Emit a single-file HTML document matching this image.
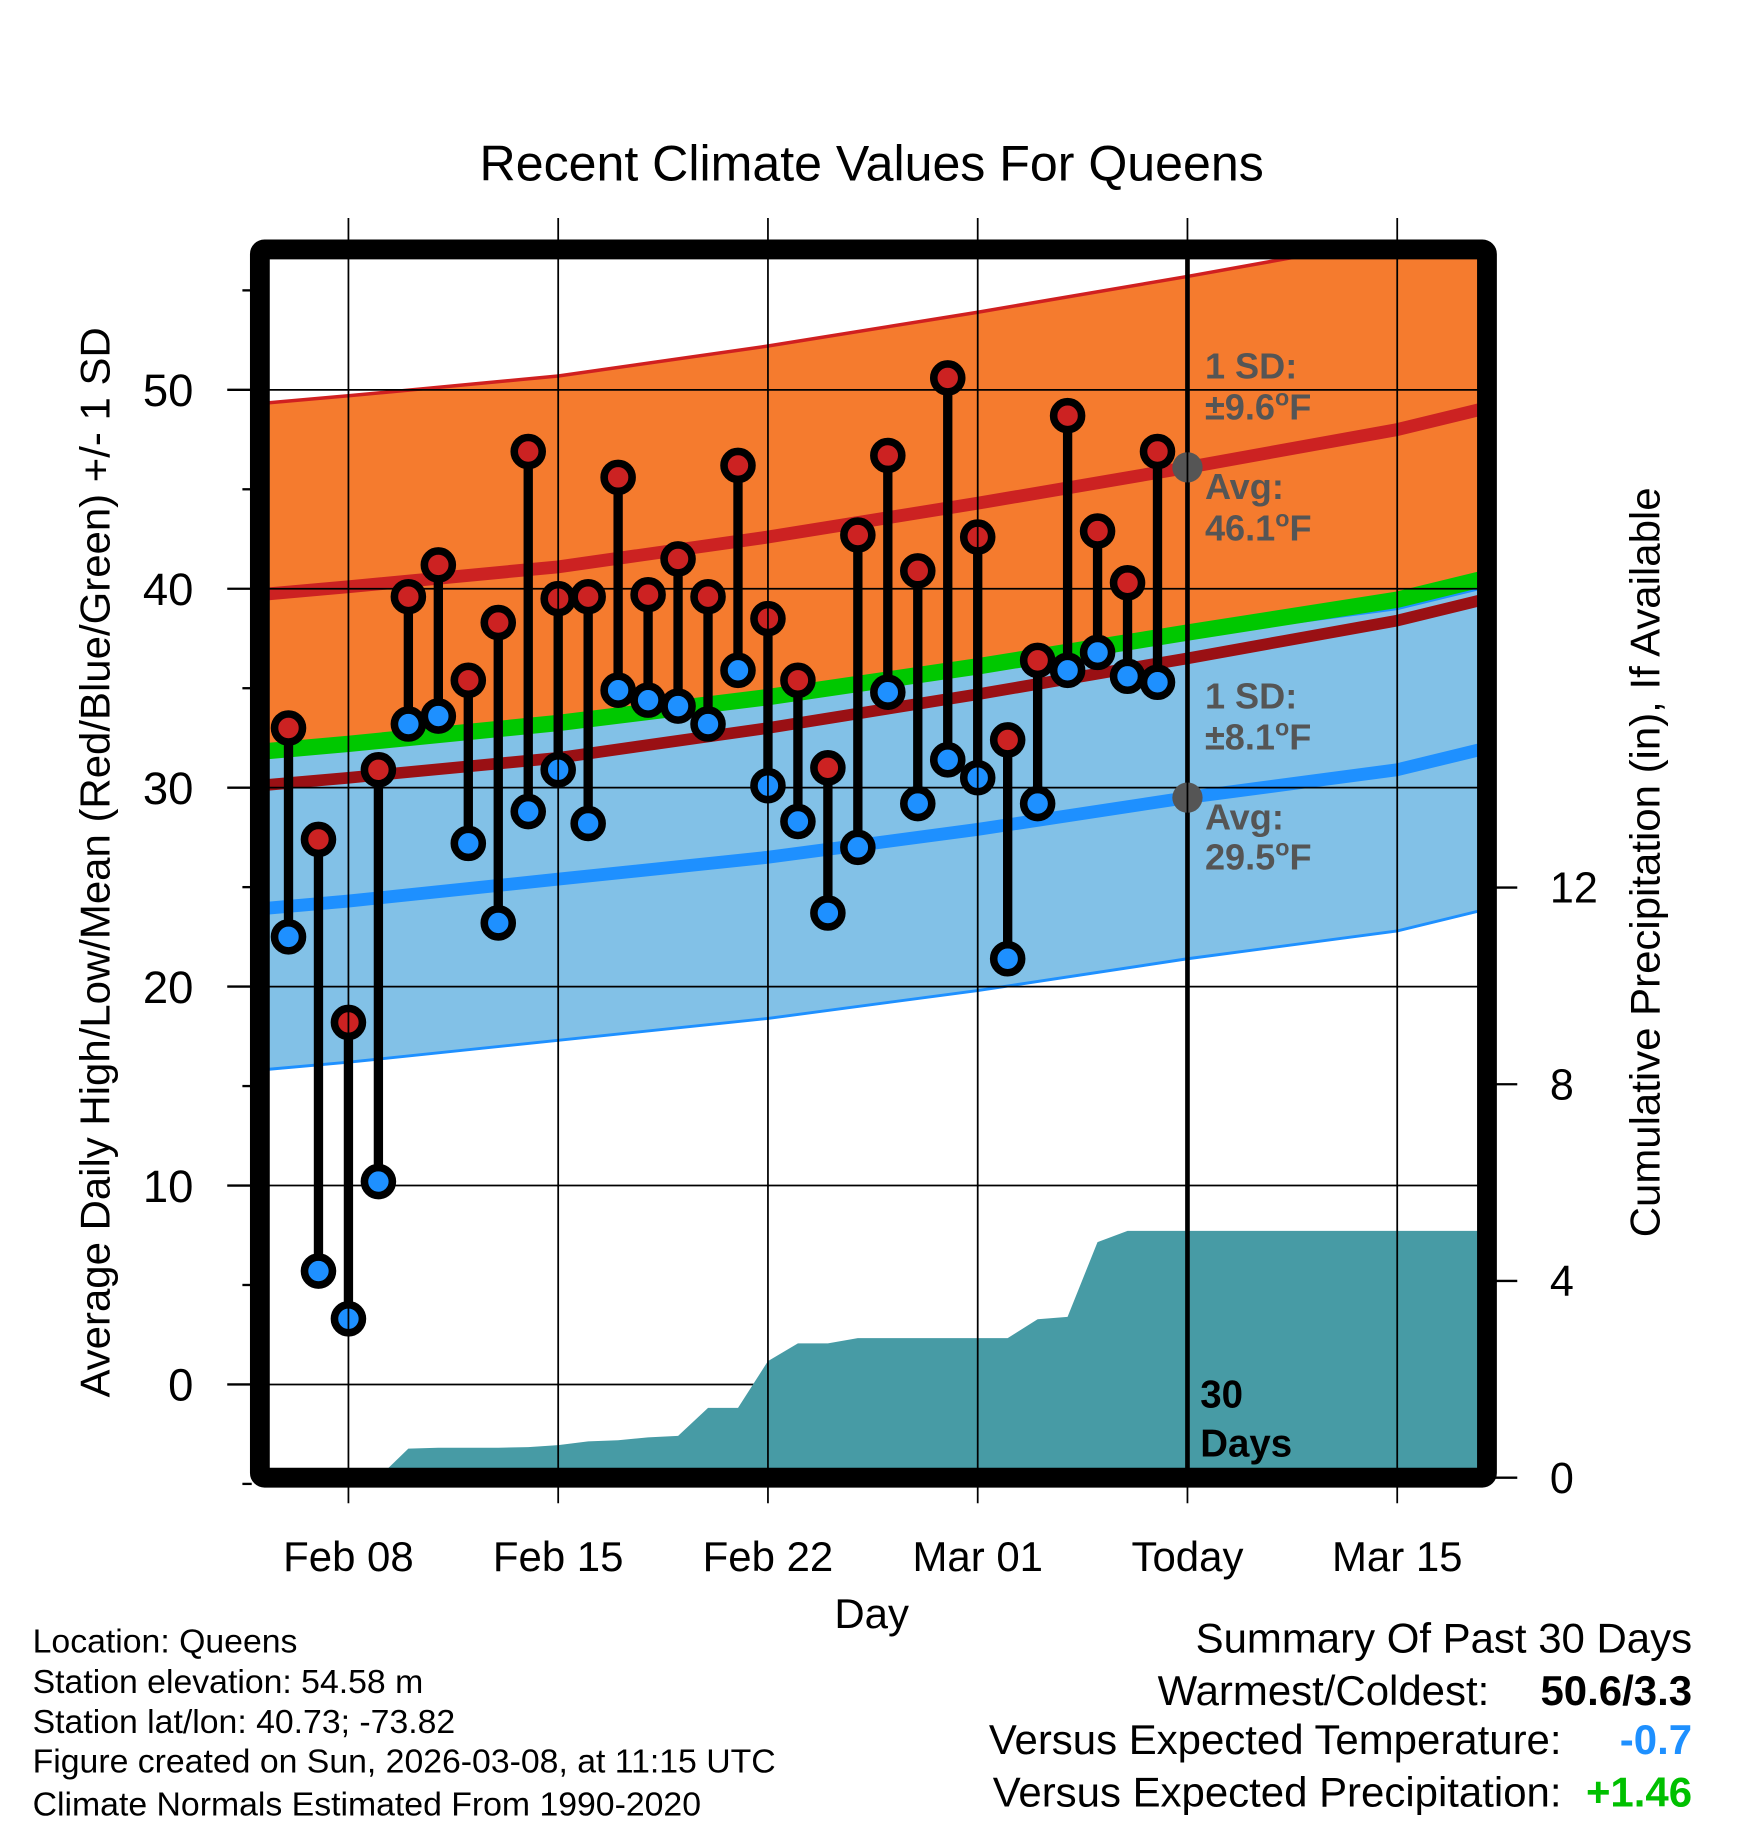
<!DOCTYPE html>
<html><head><meta charset="utf-8"><style>
html,body{margin:0;padding:0;background:#fff}
svg{display:block}
text{font-family:"Liberation Sans",sans-serif}
</style></head><body>
<svg id="chart" width="1748" height="1828" viewBox="0 0 1500 1568.6" xmlns="http://www.w3.org/2000/svg">
<defs><clipPath id="plotclip"><rect x="231" y="222" width="1037" height="1038"/></clipPath></defs>
<rect width="1500" height="1569" fill="#fff"/>
<text x="748" y="155" font-size="43" text-anchor="middle">Recent Climate Values For Queens</text>
<g id="plot" clip-path="url(#plotclip)"></g>
<g id="over"></g>
<rect x="223" y="214" width="1053" height="1054" fill="none" stroke="#000" stroke-width="17" rx="4"/>
<g id="axes"></g>
<text transform="translate(94,740) rotate(-90)" font-size="36" text-anchor="middle">Average Daily High/Low/Mean (Red/Blue/Green) +/- 1 SD</text>
<text transform="translate(1424,740) rotate(-90)" font-size="36" text-anchor="middle">Cumulative Precipitation (in), If Available</text>
<text x="748" y="1397" font-size="36" text-anchor="middle">Day</text>
<g font-size="29">
<text x="28" y="1418">Location: Queens</text>
<text x="28" y="1453">Station elevation: 54.58 m</text>
<text x="28" y="1487">Station lat/lon: 40.73; -73.82</text>
<text x="28" y="1521">Figure created on Sun, 2026-03-08, at 11:15 UTC</text>
<text x="28" y="1558">Climate Normals Estimated From 1990-2020</text>
</g>
<g font-size="36" text-anchor="end">
<text x="1452" y="1418">Summary Of Past 30 Days</text>
<text x="1278" y="1463">Warmest/Coldest:</text>
<text x="1452" y="1463" font-weight="bold">50.6/3.3</text>
<text x="1340" y="1505">Versus Expected Temperature:</text>
<text x="1452" y="1505" font-weight="bold" fill="#1E90FF">-0.7</text>
<text x="1340" y="1550">Versus Expected Precipitation:</text>
<text x="1452" y="1550" font-weight="bold" fill="#00C000">+1.46</text>
</g>
</svg>
<script>
const obsDays = [6,7,8,9,10,11,12,13,14,15,16,17,18,19,20,21,22,23,24,25,26,27,28,29,30,31,32,33,34,35];
const highs = [33.0,27.4,18.2,30.9,39.6,41.2,35.4,38.3,46.9,39.5,39.6,45.6,39.7,41.5,39.6,46.2,38.5,35.4,31.0,42.7,46.7,40.9,50.6,42.6,32.4,36.4,48.7,42.9,40.3,46.9];
const lows = [22.5,5.7,3.3,10.2,33.2,33.6,27.2,23.2,28.8,30.9,28.2,34.9,34.4,34.1,33.2,35.9,30.1,28.3,23.7,27.0,34.8,29.2,31.4,30.5,21.4,29.2,35.9,36.8,35.6,35.3];
const precip = [0,0,0,0,0.59,0.61,0.61,0.61,0.62,0.66,0.74,0.76,0.82,0.85,1.42,1.42,2.37,2.73,2.73,2.84,2.84,2.84,2.84,2.84,2.84,3.22,3.27,4.79,5.02,5.02];
const normDays = [5,8,15,22,29,36,43,46];
const hiAvg = [39.7,40.1,41.1,42.6,44.3,46.1,48.0,49.1];
const loAvg = [23.9,24.3,25.4,26.5,27.9,29.5,30.9,32.0];
const hiSD = 9.6, loSD = 8.1;
const yTicks = [0,10,20,30,40,50];
const y2Ticks = [0,4,8,12];
const xTickDays = [8,15,22,29,36,43];
const xTickLabels = ["Feb 08","Feb 15","Feb 22","Mar 01","Today","Mar 15"];
const todayDay = 36;

const NS="http://www.w3.org/2000/svg";
const X = d => 299 + (d-8)*25.714;
const Y = v => 1188 - v*17.07;
const Y2 = v => 1268 - v*42.2;
function mk(tag, attrs, parent){const e=document.createElementNS(NS,tag);for(const k in attrs)e.setAttribute(k,attrs[k]);parent.appendChild(e);return e;}
const plot=document.getElementById('plot'), over=document.getElementById('over'), axes=document.getElementById('axes');
const pts=(ds,vs,f)=>ds.map((d,i)=>X(d).toFixed(1)+','+f(vs[i]).toFixed(1));
const hiU=hiAvg.map(v=>v+hiSD), hiL=hiAvg.map(v=>v-hiSD), loU=loAvg.map(v=>v+loSD), loL=loAvg.map(v=>v-loSD);
const meanAvg=hiAvg.map((v,i)=>(v+loAvg[i])/2);
const rev=a=>a.slice().reverse();
let e=mk('polygon',{points:pts(normDays,hiU,Y).concat(rev(pts(normDays,hiL,Y))).join(' '),fill:'#F57B2E'},plot);

e=mk('polyline',{points:pts(normDays,hiU,Y).join(' '),fill:'none',stroke:'#D02020','stroke-width':3},plot);

e=mk('polyline',{points:pts(normDays,hiAvg,Y).join(' '),fill:'none',stroke:'#CC2222','stroke-width':11},plot);

e=mk('polygon',{points:pts(normDays,loU,Y).concat(rev(pts(normDays,loL,Y))).join(' '),fill:'#82C1E7'},plot);

e=mk('polyline',{points:pts(normDays,loU,Y).join(' '),fill:'none',stroke:'#1E90FF','stroke-width':2.5},plot);

e=mk('polyline',{points:pts(normDays,loL,Y).join(' '),fill:'none',stroke:'#1E90FF','stroke-width':2.5},plot);

e=mk('polyline',{points:pts(normDays,loAvg,Y).join(' '),fill:'none',stroke:'#1E90FF','stroke-width':11},plot);

e=mk('polyline',{points:pts(normDays,hiL,Y).join(' '),fill:'none',stroke:'#9A1014','stroke-width':10},plot);

e=mk('polyline',{points:pts(normDays,meanAvg,Y).join(' '),fill:'none',stroke:'#00C800','stroke-width':14},plot);

yTicks.forEach(v=>{const g=mk('line',{x1:231,x2:1268,y1:Y(v),y2:Y(v),stroke:'#000','stroke-width':1.5},plot);
});
xTickDays.forEach(d=>{const g=mk('line',{x1:X(d),x2:X(d),y1:187,y2:1290,stroke:'#000','stroke-width':1.5},axes);
});
const pp=[X(obsDays[0])+','+1268].concat(pts(obsDays,precip,Y2));
pp.push('1270,'+Y2(precip[precip.length-1]).toFixed(1),'1270,1268');
e=mk('polygon',{points:pp.join(' '),fill:'#479BA5'},plot);

e=mk('line',{x1:X(todayDay),x2:X(todayDay),y1:222,y2:1260,stroke:'#000','stroke-width':4},plot);

obsDays.forEach((d,i)=>{
 const s=mk('line',{x1:X(d),x2:X(d),y1:Y(highs[i]),y2:Y(lows[i]),stroke:'#000','stroke-width':8},over);
 
});
obsDays.forEach((d,i)=>{
 const h=mk('circle',{cx:X(d),cy:Y(highs[i]),r:12,fill:'#CC2222',stroke:'#000','stroke-width':6.5},over);
 
 const l=mk('circle',{cx:X(d),cy:Y(lows[i]),r:12,fill:'#1E90FF',stroke:'#000','stroke-width':6.5},over);
 
});
const tHi=hiAvg[normDays.indexOf(todayDay)], tLo=loAvg[normDays.indexOf(todayDay)];
[[tHi,'today-high-avg-dot'],[tLo,'today-low-avg-dot']].forEach(([v,n])=>{
 const c=mk('circle',{cx:X(todayDay),cy:Y(v),r:13,fill:'#555'},over);
 });
function lab(x,y,txt,name,fill,size){const t=mk('text',{x:x,y:y,'font-size':size||31,'font-weight':'bold',fill:fill||'#555'},over);t.innerHTML=txt;
 return t;}
const lx=X(todayDay)+15;
const deg='<tspan dy="-12" font-size="20">o</tspan><tspan dy="12">F</tspan>';
lab(lx,325,'1 SD:','high-sd-label');
lab(lx,360,'±'+hiSD.toFixed(1)+deg,'high-sd-value');
lab(lx,428,'Avg:','high-avg-label');
lab(lx,464,tHi.toFixed(1)+deg,'high-avg-value');
lab(lx,608,'1 SD:','low-sd-label');
lab(lx,643,'±'+loSD.toFixed(1)+deg,'low-sd-value');
lab(lx,712,'Avg:','low-avg-label');
lab(lx,746,tLo.toFixed(1)+deg,'low-avg-value');
lab(X(todayDay)+11,1208,'30','window-days-number','#000',33);
lab(X(todayDay)+11,1250,'Days','window-days-label','#000',33);
for(let v=-5;v<=55;v+=5){const major=v%10===0;
 const t=mk('line',{x1:major?195:208,x2:216,y1:Y(v),y2:Y(v),stroke:'#000','stroke-width':2},axes);
 }
yTicks.forEach(v=>{const t=mk('text',{x:166,y:Y(v)+14,'font-size':39,'text-anchor':'end'},axes);t.textContent=v;
 });
y2Ticks.forEach(v=>{const t=mk('line',{x1:1283,x2:1302,y1:Y2(v),y2:Y2(v),stroke:'#000','stroke-width':2},axes);
 
 const l=mk('text',{x:1330,y:Y2(v)+13,'font-size':37},axes);l.textContent=v;
 });
xTickDays.forEach((d,i)=>{const t=mk('text',{x:X(d),y:1348,'font-size':36,'text-anchor':'middle'},axes);t.textContent=xTickLabels[i];
 });
</script>
</body></html>
